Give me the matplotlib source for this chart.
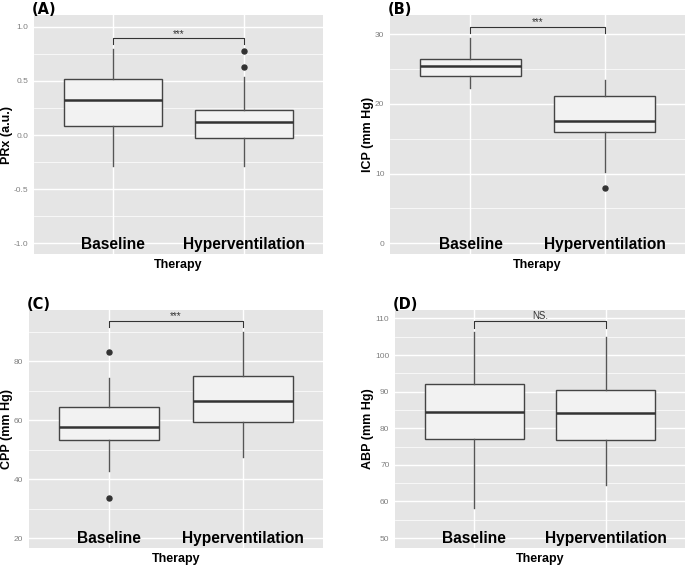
import matplotlib
matplotlib.use("Agg")
import matplotlib.pyplot as plt
from matplotlib.ticker import MultipleLocator

plt.rcParams['font.family'] = ['Liberation Sans', 'DejaVu Sans']
plt.rcParams['axes.unicode_minus'] = False

groups = ["Baseline", "Hyperventilation"]

# box stats per group: whislo, q1, med, q3, whishi
prx_stats = [[-0.29, 0.08, 0.32, 0.52, 0.80], [-0.29, -0.03, 0.12, 0.23, 0.54]]
prx_out = [[], [0.63, 0.78]]
icp_stats = [[22.3, 24.05, 25.4, 26.4, 29.5], [10.3, 16.0, 17.55, 21.1, 23.4]]
icp_out = [[], [8.0]]
cpp_stats = [[42.9, 53.2, 57.85, 64.4, 74.5], [47.7, 59.4, 66.7, 75.0, 89.8]]
cpp_out = [[83.2, 33.6], []]
abp_stats = [[58.2, 77.1, 84.45, 92.0, 106.4], [64.4, 76.7, 84.1, 90.5, 105.0]]
abp_out = [[], []]

sig_labels = ["***", "***", "***", "NS."]
sig_heights = [0.893, 31.1, 93.7, 109.3]

panels = [
    # tag, ylabel, stats, outliers, ylim, major, minor, panel rect (px), tip, ylabel x (px)
    ("(A)", "PRx (a.u.)", prx_stats, prx_out, (-1.1, 1.11), 0.5, 0.25,
     [34, 15, 323, 254], 0.05, 7),
    ("(B)", "ICP (mm Hg)", icp_stats, icp_out, (-1.54, 32.77), 10, 5,
     [390, 15, 685, 254], 0.9, 368),
    ("(C)", "CPP (mm Hg)", cpp_stats, cpp_out, (16.7, 97.4), 20, 10,
     [29, 310, 323, 548], 2.2, 7.5),
    ("(D)", "ABP (mm Hg)", abp_stats, abp_out, (47.3, 112.3), 10, 5,
     [395, 310, 685, 548], 1.8, 368),
]

W, H = 685, 567
fig = plt.figure(figsize=(W / 100, H / 100), dpi=100)

for i, (tag, ylab, stats, outs, ylim, major, minor, r, tip, lx) in enumerate(panels):
    x0, y0, x1, y1 = r
    ax = fig.add_axes([x0 / W, 1 - y1 / H, (x1 - x0) / W, (y1 - y0) / H])
    ax.set_facecolor("#E5E5E5")
    for s in ax.spines.values():
        s.set_visible(False)

    bstats = []
    for name, st, fl in zip(groups, stats, outs):
        bstats.append(dict(label=name, whislo=st[0], q1=st[1], med=st[2],
                           q3=st[3], whishi=st[4], fliers=fl))
    ax.bxp(bstats, positions=[1, 2], widths=0.75, patch_artist=True,
           showcaps=False,
           boxprops=dict(facecolor="#F2F2F2", edgecolor="#444444", linewidth=1.0),
           medianprops=dict(color="#333333", linewidth=1.8),
           whiskerprops=dict(color="#555555", linewidth=1.0),
           flierprops=dict(marker="o", markersize=3.6, markerfacecolor="#333333",
                           markeredgecolor="#333333"),
           zorder=3)

    ax.set_xlim(0.4, 2.6)
    ax.set_ylim(*ylim)
    ax.yaxis.set_major_locator(MultipleLocator(major))
    ax.yaxis.set_minor_locator(MultipleLocator(minor))
    ax.grid(True, which="major", color="white", linewidth=1.0, zorder=0)
    ax.grid(True, which="minor", axis="y", color="white", linewidth=0.5, zorder=0)
    ax.set_axisbelow(True)
    ax.set_xticks([1, 2])
    ax.set_xticklabels([])
    ax.tick_params(axis="both", which="both", length=0)
    ax.tick_params(axis="y", labelsize=6, labelcolor="#808080", pad=4)

    # category labels sit inside the panel
    for xpos, name in zip([1, 2], groups):
        ax.text(xpos, 0.02, name, transform=ax.get_xaxis_transform(),
                ha="center", va="baseline", fontsize=11.2, fontweight="bold",
                zorder=5)
    ax.text(0.5, -0.046, "Therapy", transform=ax.transAxes, ha="center",
            va="center", fontsize=9, fontweight="bold")
    fig.text(lx / W, 1 - (y0 + y1) / 2 / H, ylab, rotation=90,
             ha="center", va="center", fontsize=9, fontweight="bold")

    # significance bracket
    yb = sig_heights[i]
    ax.plot([1, 1, 2, 2], [yb - tip, yb, yb, yb - tip], color="#333333",
            linewidth=0.8, zorder=4)
    ax.annotate(sig_labels[i], xy=(1.5, yb), xytext=(0, 1.2),
                textcoords="offset points", ha="center", va="baseline",
                fontsize=7, color="#333333")

    fig.text((x0 - 2) / W, 1 - (y0 - 13) / H, tag, ha="left", va="top",
             fontsize=10.5, fontweight="bold", family="DejaVu Sans")

fig.savefig("out.png", dpi=100)
